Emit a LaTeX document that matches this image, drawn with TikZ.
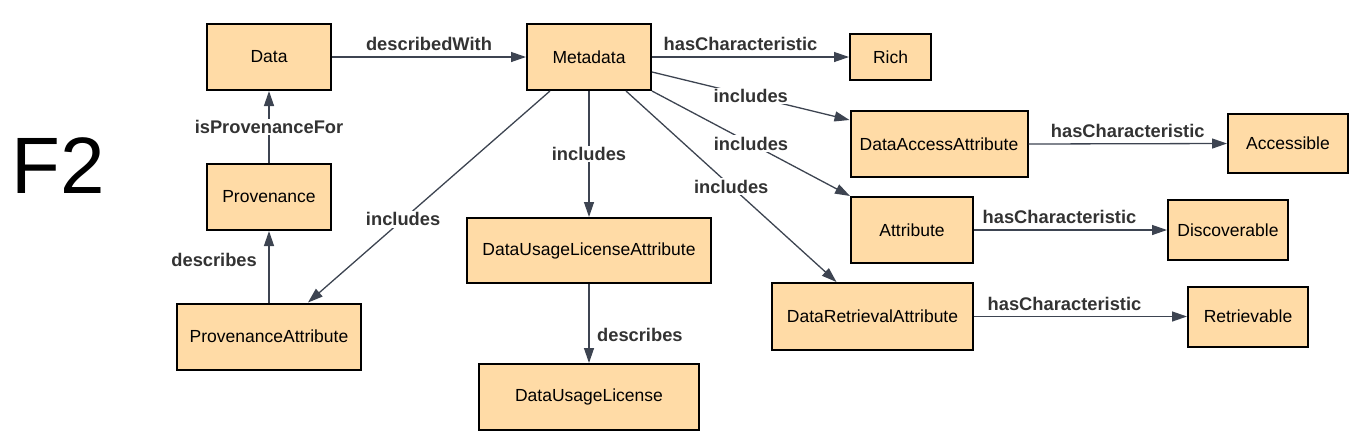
\documentclass[tikz,border=0pt]{standalone}
\usepackage{fontspec}
\setmainfont{Liberation Sans}
\usetikzlibrary{arrows.meta}
\definecolor{boxfill}{HTML}{FFDBA6}
\definecolor{edgecol}{HTML}{3D4451}
\definecolor{labcol}{HTML}{333333}
\begin{document}
\begin{tikzpicture}[x=1pt,y=-1pt,
  box/.style={draw=black, line width=2pt, fill=boxfill, inner sep=0pt, font=\fontsize{17.5}{19}\selectfont},
  rel/.style={draw=edgecol, line width=1.3pt, -{Triangle[length=15pt,width=10pt]}},
  lab/.style={text=labcol, font=\bfseries\fontsize{18.3}{20}\selectfont, inner sep=1.5pt},
  onl/.style={lab, fill=white}
]
\useasboundingbox (0,0) rectangle (1362,440);
\node[font=\fontsize{80}{84}\selectfont, inner sep=0pt] (F2) at (58,166) {F2};

\node[box, minimum width=124pt, minimum height=66pt] (Data) at (269,57) {Data};
\node[box, minimum width=124pt, minimum height=66pt] (Meta) at (589,57) {Metadata};
\node[box, minimum width=81pt, minimum height=46pt] (Rich) at (890.5,57) {Rich};
\node[box, minimum width=177pt, minimum height=66pt] (DAA) at (939,144) {DataAccessAttribute};
\node[box, minimum width=120pt, minimum height=59pt] (Acc) at (1288,143.5) {Accessible};
\node[box, minimum width=122pt, minimum height=66pt] (Attr) at (912,230) {Attribute};
\node[box, minimum width=120pt, minimum height=60pt] (Disc) at (1228,230) {Discoverable};
\node[box, minimum width=201pt, minimum height=67pt] (DRA) at (872.5,316.5) {DataRetrievalAttribute};
\node[box, minimum width=120pt, minimum height=60pt] (Retr) at (1248,316.5) {Retrievable};
\node[box, minimum width=124pt, minimum height=66pt] (Prov) at (269,197) {Provenance};
\node[box, minimum width=184pt, minimum height=66pt] (PA) at (269,336.5) {ProvenanceAttribute};
\node[box, minimum width=244pt, minimum height=65pt] (DULA) at (589,250.5) {DataUsageLicenseAttribute};
\node[box, minimum width=220pt, minimum height=66pt] (DUL) at (589,397) {DataUsageLicense};

\draw[rel] (Data.east) -- node[lab, above=4pt] {describedWith} (Meta.west);
\draw[rel] (Meta.east) -- node[lab, above=4pt, xshift=-10pt] {hasCharacteristic} (Rich.west);
\draw[rel] ([yshift=-15pt]Meta.east) -- node[onl, pos=0.5] {includes} ([yshift=24pt]DAA.west);
\draw[rel] (Meta.south east) -- node[onl, pos=0.5] {includes} (Attr.north west);
\draw[rel] ([xshift=37pt]Meta.south) -- node[onl, pos=0.5] {includes} ([xshift=-36pt]DRA.north);
\draw[rel] (Meta.south) -- node[onl, pos=0.5] {includes} (DULA.north);
\draw[rel] ([xshift=-39pt]Meta.south) -- node[onl, pos=0.607] {includes} ([xshift=39pt]PA.north);
\draw[rel] (Prov.north) -- node[onl, pos=0.5] {isProvenanceFor} (Data.south);
\draw[rel] (PA.north) -- node[lab, left=10pt, pos=0.6] {describes} (Prov.south);
\draw[rel] (DULA.south) -- node[lab, right=6pt, pos=0.64] {describes} (DUL.north);
\draw[rel] (DAA.east) -- node[lab, above=4pt] {hasCharacteristic} (Acc.west);
\draw[rel] (Attr.east) -- node[lab, above=4pt, xshift=-11pt] {hasCharacteristic} (Disc.west);
\draw[rel] (DRA.east) -- node[lab, above=4pt, xshift=-16pt] {hasCharacteristic} (Retr.west);
\end{tikzpicture}
\end{document}
